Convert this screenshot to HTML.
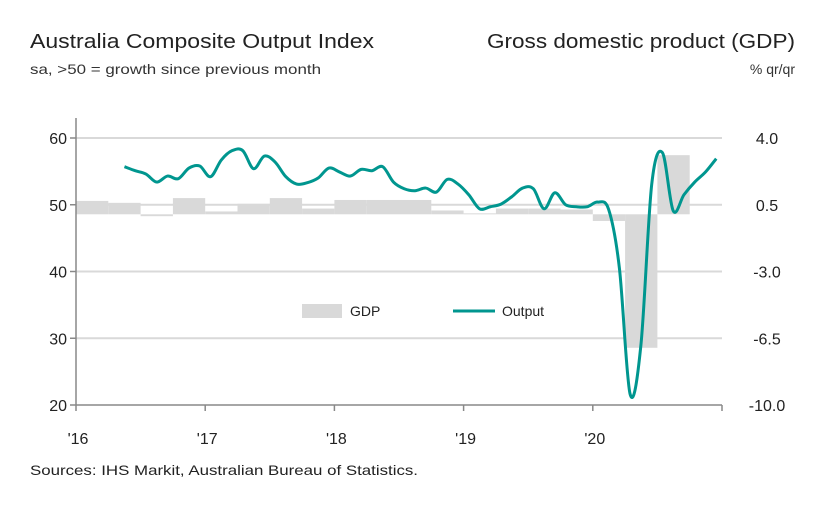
<!DOCTYPE html>
<html><head><meta charset="utf-8"><style>
html,body{margin:0;padding:0;background:#fff;}
svg{display:block;font-family:"Liberation Sans",sans-serif;}
</style></head><body>
<svg id="chart" width="824" height="505" viewBox="0 0 824 505">
<text x="30" y="48" font-size="20" fill="#222" textLength="344" lengthAdjust="spacingAndGlyphs">Australia Composite Output Index</text>
<text x="30" y="74" font-size="14" fill="#333" textLength="291" lengthAdjust="spacingAndGlyphs">sa, &gt;50 = growth since previous month</text>
<text x="795" y="48" font-size="20" fill="#222" text-anchor="end" textLength="308" lengthAdjust="spacingAndGlyphs">Gross domestic product (GDP)</text>
<text x="795" y="74" font-size="14" fill="#333" text-anchor="end">% qr/qr</text>
<g id="grid"></g>
<g id="bars"></g>
<path id="line" fill="none" stroke="#00968f" stroke-width="3" stroke-linejoin="round"/>
<g id="axes"></g>
<g>
<rect x="302" y="304" width="40" height="14" fill="#d9d9d9"/>
<text x="350" y="316" font-size="14" fill="#222">GDP</text>
<line x1="453" y1="311" x2="495" y2="311" stroke="#00968f" stroke-width="3"/>
<text x="502" y="316" font-size="14" fill="#222">Output</text>
</g>
<text x="30" y="475" font-size="14" fill="#222" textLength="388" lengthAdjust="spacingAndGlyphs">Sources: IHS Markit, Australian Bureau of Statistics.</text>
</svg>
<script>
const leftTicks = [20, 30, 40, 50, 60];
const rightTicks = ["-10.0", "-6.5", "-3.0", "0.5", "4.0"];
const yearLabels = ["'16", "'17", "'18", "'19", "'20"];
const gdpQuarters = ["16Q1","16Q2","16Q3","16Q4","17Q1","17Q2","17Q3","17Q4","18Q1","18Q2","18Q3","18Q4","19Q1","19Q2","19Q3","19Q4","20Q1","20Q2","20Q3"];
const gdpValues = [0.7, 0.6, -0.1, 0.85, 0.15, 0.55, 0.85, 0.3, 0.75, 0.75, 0.75, 0.2, 0.05, 0.3, 0.3, 0.25, -0.35, -7.0, 3.1];
const outputStartMonth = 4;
const outputValues = [55.7,55.1,54.6,53.4,54.3,53.9,55.5,55.8,54.2,56.7,58.1,58.1,55.4,57.3,56.4,54.2,53.1,53.3,54.0,55.5,
54.9,54.3,55.3,55.1,55.7,53.4,52.4,52.1,52.5,51.9,53.8,53.1,51.5,49.4,49.7,50.1,51.2,52.5,52.4,49.4,51.8,50.0,49.7,49.7,50.4,
49.3,40.5,21.6,29.0,53.0,57.8,49.1,51.5,53.4,54.9,56.9];

const NS = "http://www.w3.org/2000/svg";
const X0 = 76, X1 = 722, YT = 138, YB = 405;
const yL = v => YB - (v - 20) / 40 * (YB - YT);
const yR = v => YB - (v + 10) / 14 * (YB - YT);
const xQ = q => X0 + q * (X1 - X0) / 20;
const xM = m => 81.4 + m * 10.76;
function mk(tag, attrs, parent) { const e = document.createElementNS(NS, tag); for (const k in attrs) e.setAttribute(k, attrs[k]); parent.appendChild(e); return e; }

const grid = document.getElementById('grid');
leftTicks.forEach(v => {
  if (v > 20) {
    const gl = mk('line', {x1: X0, x2: X1, y1: yL(v), y2: yL(v), stroke: '#d9d9d9', 'stroke-width': 2}, grid);
    
    
  }
});

const bars = document.getElementById('bars');
gdpValues.forEach((v, i) => {
  const y0 = yR(0), y1 = yR(v);
  const r = mk('rect', {x: xQ(i), y: Math.min(y0, y1), width: xQ(1) - xQ(0), height: Math.max(1, Math.abs(y1 - y0)), fill: '#d9d9d9'}, bars);
  
  
});

// Catmull-Rom smooth line
const pts = outputValues.map((v, i) => [xM(outputStartMonth + i), yL(v)]);
let d = 'M' + pts[0][0] + ',' + pts[0][1];
for (let i = 0; i < pts.length - 1; i++) {
  const p0 = pts[Math.max(0, i - 1)], p1 = pts[i], p2 = pts[i + 1], p3 = pts[Math.min(pts.length - 1, i + 2)];
  const t = 6;
  d += ' C' + (p1[0] + (p2[0] - p0[0]) / t) + ',' + (p1[1] + (p2[1] - p0[1]) / t) + ' ' +
       (p2[0] - (p3[0] - p1[0]) / t) + ',' + (p2[1] - (p3[1] - p1[1]) / t) + ' ' + p2[0] + ',' + p2[1];
}
document.getElementById('line').setAttribute('d', d);

const axes = document.getElementById('axes');
const la = mk('line', {x1: X0, x2: X0, y1: 118, y2: YB, stroke: '#888', 'stroke-width': 1.5}, axes);


const ba = mk('line', {x1: X0, x2: X1, y1: YB, y2: YB, stroke: '#888', 'stroke-width': 1.5}, axes);


leftTicks.forEach(v => {
  const tk = mk('line', {x1: X0 - 6, x2: X0, y1: yL(v), y2: yL(v), stroke: '#888', 'stroke-width': 1.5}, axes);
  
  
  const t = mk('text', {x: 67, y: yL(v) + 6, 'font-size': 16, 'text-anchor': 'end', fill: '#222'}, axes);
  t.textContent = v;
  
  
});
rightTicks.forEach(s => {
  const t = mk('text', {x: 767, y: yR(parseFloat(s)) + 6, 'font-size': 16, 'text-anchor': 'middle', fill: '#222'}, axes);
  t.textContent = s;
  
  
});
for (let q = 0; q <= 20; q += 4) {
  const tk = mk('line', {x1: xQ(q), x2: xQ(q), y1: YB, y2: YB + 6, stroke: '#888', 'stroke-width': 1.5}, axes);
  
  
}
yearLabels.forEach((s, i) => {
  const t = mk('text', {x: xQ(i * 4) + 2, y: 444, 'font-size': 16, 'text-anchor': 'middle', fill: '#222'}, axes);
  t.textContent = s;
  
  
});
</script>
</body></html>
